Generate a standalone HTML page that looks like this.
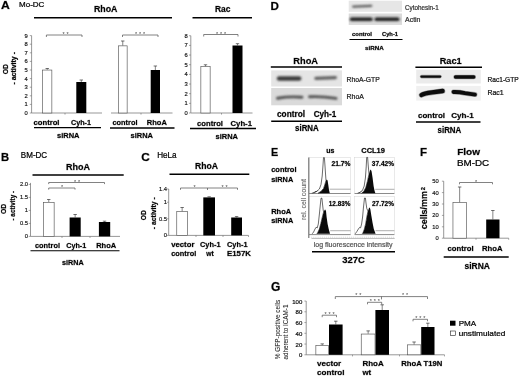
<!DOCTYPE html>
<html><head><meta charset="utf-8"><title>Figure</title>
<style>
html,body{margin:0;padding:0;background:#fff;}
svg{display:block;font-family:"Liberation Sans",sans-serif;}
</style></head>
<body>
<svg width="520" height="376" viewBox="0 0 520 376">
<defs>
<filter id="b2" x="-10%" y="-50%" width="120%" height="200%"><feGaussianBlur stdDeviation="0.8"/></filter>
</defs>
<rect width="520" height="376" fill="#fff"/>
<text x="0.9" y="8.9" font-size="11.6" font-weight="bold" textLength="8.8" lengthAdjust="spacingAndGlyphs" stroke="#000" stroke-width="0.5" stroke-opacity="0.45">A</text>
<text x="19" y="7.2" font-size="7.7" textLength="25.4" lengthAdjust="spacingAndGlyphs" stroke="#000" stroke-width="0.22">Mo-DC</text>
<text x="105.7" y="11.6" font-size="9.2" font-weight="bold" text-anchor="middle" textLength="23.5" lengthAdjust="spacingAndGlyphs" stroke="#000" stroke-width="0.5" stroke-opacity="0.45">RhoA</text>
<line x1="34" y1="17.8" x2="172" y2="17.8" stroke="#000" stroke-width="1.5"/>
<text x="222.7" y="11.5" font-size="9.2" font-weight="bold" text-anchor="middle" textLength="15.5" lengthAdjust="spacingAndGlyphs" stroke="#000" stroke-width="0.5" stroke-opacity="0.45">Rac</text>
<line x1="192.5" y1="17.8" x2="252" y2="17.8" stroke="#000" stroke-width="1.5"/>
<line x1="31.6" y1="35.60000000000001" x2="31.6" y2="113" stroke="#6a6a6a" stroke-width="0.7"/>
<line x1="29.8" y1="113.0" x2="31.6" y2="113.0" stroke="#6a6a6a" stroke-width="0.6"/>
<text x="27.7" y="115.088" font-size="5.8" text-anchor="end" fill="#111" stroke="#111" stroke-width="0.15">0</text>
<line x1="29.8" y1="104.4" x2="31.6" y2="104.4" stroke="#6a6a6a" stroke-width="0.6"/>
<text x="27.7" y="106.488" font-size="5.8" text-anchor="end" fill="#111" stroke="#111" stroke-width="0.15">1</text>
<line x1="29.8" y1="95.8" x2="31.6" y2="95.8" stroke="#6a6a6a" stroke-width="0.6"/>
<text x="27.7" y="97.88799999999999" font-size="5.8" text-anchor="end" fill="#111" stroke="#111" stroke-width="0.15">2</text>
<line x1="29.8" y1="87.2" x2="31.6" y2="87.2" stroke="#6a6a6a" stroke-width="0.6"/>
<text x="27.7" y="89.288" font-size="5.8" text-anchor="end" fill="#111" stroke="#111" stroke-width="0.15">3</text>
<line x1="29.8" y1="78.6" x2="31.6" y2="78.6" stroke="#6a6a6a" stroke-width="0.6"/>
<text x="27.7" y="80.68799999999999" font-size="5.8" text-anchor="end" fill="#111" stroke="#111" stroke-width="0.15">4</text>
<line x1="29.8" y1="70.0" x2="31.6" y2="70.0" stroke="#6a6a6a" stroke-width="0.6"/>
<text x="27.7" y="72.088" font-size="5.8" text-anchor="end" fill="#111" stroke="#111" stroke-width="0.15">5</text>
<line x1="29.8" y1="61.400000000000006" x2="31.6" y2="61.400000000000006" stroke="#6a6a6a" stroke-width="0.6"/>
<text x="27.7" y="63.48800000000001" font-size="5.8" text-anchor="end" fill="#111" stroke="#111" stroke-width="0.15">6</text>
<line x1="29.8" y1="52.800000000000004" x2="31.6" y2="52.800000000000004" stroke="#6a6a6a" stroke-width="0.6"/>
<text x="27.7" y="54.888000000000005" font-size="5.8" text-anchor="end" fill="#111" stroke="#111" stroke-width="0.15">7</text>
<line x1="29.8" y1="44.2" x2="31.6" y2="44.2" stroke="#6a6a6a" stroke-width="0.6"/>
<text x="27.7" y="46.288000000000004" font-size="5.8" text-anchor="end" fill="#111" stroke="#111" stroke-width="0.15">8</text>
<line x1="29.8" y1="35.60000000000001" x2="31.6" y2="35.60000000000001" stroke="#6a6a6a" stroke-width="0.6"/>
<text x="27.7" y="37.68800000000001" font-size="5.8" text-anchor="end" fill="#111" stroke="#111" stroke-width="0.15">9</text>
<line x1="31.6" y1="113" x2="102" y2="113" stroke="#6a6a6a" stroke-width="0.7"/>
<line x1="65" y1="113" x2="65" y2="114.6" stroke="#6a6a6a" stroke-width="0.6"/>
<rect x="42.65" y="70.05" width="9.200000000000006" height="42.949999999999996" fill="#fff" stroke="#555" stroke-width="0.65"/>
<line x1="47.25" y1="68.5" x2="47.25" y2="69.7" stroke="#333" stroke-width="0.6"/>
<line x1="45.55" y1="68.5" x2="48.95" y2="68.5" stroke="#333" stroke-width="0.7"/>
<rect x="76.3" y="82" width="10.0" height="31" fill="#000"/>
<line x1="81.3" y1="80" x2="81.3" y2="82" stroke="#333" stroke-width="0.6"/>
<line x1="79.6" y1="80" x2="83.0" y2="80" stroke="#333" stroke-width="0.7"/>
<path d="M46.4 37V35H82V37" fill="none" stroke="#585858" stroke-width="0.75"/>
<text x="66.45" y="36.0" font-size="5.5" text-anchor="middle" fill="#444" letter-spacing="1.9">**</text>
<text font-size="6.5" text-anchor="middle" font-weight="bold" stroke="#000" stroke-width="0.45" stroke-opacity="0.45" textLength="10.2" lengthAdjust="spacingAndGlyphs" transform="translate(7.8 69.2) rotate(-90)">OD</text>
<text font-size="6.5" text-anchor="middle" font-weight="bold" stroke="#000" stroke-width="0.45" stroke-opacity="0.45" textLength="32.5" lengthAdjust="spacingAndGlyphs" transform="translate(16.2 68.3) rotate(-90)">- activity -</text>
<text x="33.5" y="125" font-size="7.6" font-weight="bold" textLength="26" lengthAdjust="spacingAndGlyphs" stroke="#000" stroke-width="0.5" stroke-opacity="0.45">control</text>
<text x="71" y="125" font-size="7.5" font-weight="bold" textLength="20" lengthAdjust="spacingAndGlyphs" stroke="#000" stroke-width="0.5" stroke-opacity="0.45">Cyh-1</text>
<line x1="34" y1="127.6" x2="101" y2="127.6" stroke="#000" stroke-width="1.3"/>
<text x="68.3" y="138.3" font-size="7.5" font-weight="bold" text-anchor="middle" textLength="22.5" lengthAdjust="spacingAndGlyphs" stroke="#000" stroke-width="0.5" stroke-opacity="0.45">siRNA</text>
<line x1="111" y1="113" x2="172.5" y2="113" stroke="#6a6a6a" stroke-width="0.7"/>
<line x1="141" y1="113" x2="141" y2="114.6" stroke="#6a6a6a" stroke-width="0.6"/>
<rect x="118.35" y="45.85" width="8.8" height="67.15" fill="#fff" stroke="#555" stroke-width="0.65"/>
<line x1="122.75" y1="41" x2="122.75" y2="45.5" stroke="#333" stroke-width="0.6"/>
<line x1="121.05" y1="41" x2="124.45" y2="41" stroke="#333" stroke-width="0.7"/>
<rect x="150.7" y="70" width="9.300000000000011" height="43" fill="#000"/>
<line x1="155.35" y1="66" x2="155.35" y2="70" stroke="#333" stroke-width="0.6"/>
<line x1="153.65" y1="66" x2="157.04999999999998" y2="66" stroke="#333" stroke-width="0.7"/>
<path d="M122.5 37V35H158V37" fill="none" stroke="#585858" stroke-width="0.75"/>
<text x="140.95" y="36.0" font-size="5.5" text-anchor="middle" fill="#444" letter-spacing="1.9">***</text>
<text x="112.5" y="125" font-size="7.5" font-weight="bold" textLength="25" lengthAdjust="spacingAndGlyphs" stroke="#000" stroke-width="0.5" stroke-opacity="0.45">control</text>
<text x="146.8" y="125" font-size="7.7" font-weight="bold" textLength="20" lengthAdjust="spacingAndGlyphs" stroke="#000" stroke-width="0.5" stroke-opacity="0.45">RhoA</text>
<line x1="110" y1="128" x2="174.5" y2="128" stroke="#000" stroke-width="1.3"/>
<text x="141.8" y="138.2" font-size="7.7" font-weight="bold" text-anchor="middle" textLength="22.5" lengthAdjust="spacingAndGlyphs" stroke="#000" stroke-width="0.5" stroke-opacity="0.45">siRNA</text>
<line x1="190.8" y1="35.72" x2="190.8" y2="113" stroke="#6a6a6a" stroke-width="0.7"/>
<line x1="189.0" y1="113.0" x2="190.8" y2="113.0" stroke="#6a6a6a" stroke-width="0.6"/>
<text x="187.8" y="115.088" font-size="5.8" text-anchor="end" fill="#111" stroke="#111" stroke-width="0.15">0</text>
<line x1="189.0" y1="103.34" x2="190.8" y2="103.34" stroke="#6a6a6a" stroke-width="0.6"/>
<text x="187.8" y="105.428" font-size="5.8" text-anchor="end" fill="#111" stroke="#111" stroke-width="0.15">1</text>
<line x1="189.0" y1="93.68" x2="190.8" y2="93.68" stroke="#6a6a6a" stroke-width="0.6"/>
<text x="187.8" y="95.768" font-size="5.8" text-anchor="end" fill="#111" stroke="#111" stroke-width="0.15">2</text>
<line x1="189.0" y1="84.02" x2="190.8" y2="84.02" stroke="#6a6a6a" stroke-width="0.6"/>
<text x="187.8" y="86.10799999999999" font-size="5.8" text-anchor="end" fill="#111" stroke="#111" stroke-width="0.15">3</text>
<line x1="189.0" y1="74.36" x2="190.8" y2="74.36" stroke="#6a6a6a" stroke-width="0.6"/>
<text x="187.8" y="76.448" font-size="5.8" text-anchor="end" fill="#111" stroke="#111" stroke-width="0.15">4</text>
<line x1="189.0" y1="64.7" x2="190.8" y2="64.7" stroke="#6a6a6a" stroke-width="0.6"/>
<text x="187.8" y="66.788" font-size="5.8" text-anchor="end" fill="#111" stroke="#111" stroke-width="0.15">5</text>
<line x1="189.0" y1="55.04" x2="190.8" y2="55.04" stroke="#6a6a6a" stroke-width="0.6"/>
<text x="187.8" y="57.128" font-size="5.8" text-anchor="end" fill="#111" stroke="#111" stroke-width="0.15">6</text>
<line x1="189.0" y1="45.379999999999995" x2="190.8" y2="45.379999999999995" stroke="#6a6a6a" stroke-width="0.6"/>
<text x="187.8" y="47.467999999999996" font-size="5.8" text-anchor="end" fill="#111" stroke="#111" stroke-width="0.15">7</text>
<line x1="189.0" y1="35.72" x2="190.8" y2="35.72" stroke="#6a6a6a" stroke-width="0.6"/>
<text x="187.8" y="37.808" font-size="5.8" text-anchor="end" fill="#111" stroke="#111" stroke-width="0.15">8</text>
<line x1="191" y1="113" x2="252.5" y2="113" stroke="#6a6a6a" stroke-width="0.7"/>
<line x1="221.5" y1="113" x2="221.5" y2="114.6" stroke="#6a6a6a" stroke-width="0.6"/>
<rect x="200.85" y="66.55" width="9.3" height="46.449999999999996" fill="#fff" stroke="#555" stroke-width="0.65"/>
<line x1="205.5" y1="64.8" x2="205.5" y2="66.2" stroke="#333" stroke-width="0.6"/>
<line x1="203.8" y1="64.8" x2="207.2" y2="64.8" stroke="#333" stroke-width="0.7"/>
<rect x="232.5" y="45.5" width="10.0" height="67.5" fill="#000"/>
<line x1="237.5" y1="43.7" x2="237.5" y2="45.5" stroke="#333" stroke-width="0.6"/>
<line x1="235.8" y1="43.7" x2="239.2" y2="43.7" stroke="#333" stroke-width="0.7"/>
<path d="M203.7 36.5V34.5H238V36.5" fill="none" stroke="#585858" stroke-width="0.75"/>
<text x="221.95" y="35.5" font-size="5.5" text-anchor="middle" fill="#444" letter-spacing="1.9">***</text>
<text x="197" y="126" font-size="7.7" font-weight="bold" textLength="26" lengthAdjust="spacingAndGlyphs" stroke="#000" stroke-width="0.5" stroke-opacity="0.45">control</text>
<text x="230.5" y="126" font-size="7.7" font-weight="bold" textLength="21.5" lengthAdjust="spacingAndGlyphs" stroke="#000" stroke-width="0.5" stroke-opacity="0.45">Cyh-1</text>
<line x1="190" y1="128.5" x2="256" y2="128.5" stroke="#000" stroke-width="1.3"/>
<text x="226.8" y="139.2" font-size="7.7" font-weight="bold" text-anchor="middle" textLength="22.5" lengthAdjust="spacingAndGlyphs" stroke="#000" stroke-width="0.5" stroke-opacity="0.45">siRNA</text>
<text x="270.4" y="10" font-size="11.6" font-weight="bold" stroke="#000" stroke-width="0.5" stroke-opacity="0.45">D</text>
<rect x="348.7" y="0.7" width="53.3" height="11.1" fill="#e6e6e6"/>
<rect x="348.7" y="13.5" width="53.3" height="11.4" fill="#dadada"/>
<g filter="url(#b2)" fill="none" stroke-linecap="round">
<path d="M353.2 6.7 L371.2 5.9" fill="none" stroke="#5a5a5a" stroke-width="2.3"/>
<path d="M351.5 19.3 H371" fill="none" stroke="#1c1c1c" stroke-width="3.4"/>
<path d="M376.2 19.3 H397.8" fill="none" stroke="#1c1c1c" stroke-width="3.4"/>
</g>
<text x="405" y="9.6" font-size="6.3" fill="#333" textLength="33.7" lengthAdjust="spacingAndGlyphs" stroke="#333" stroke-width="0.22">Cytohesin-1</text>
<text x="405" y="21.6" font-size="6.3" fill="#333" textLength="15.5" lengthAdjust="spacingAndGlyphs" stroke="#333" stroke-width="0.22">Actin</text>
<text x="352" y="36.3" font-size="6" font-weight="bold" textLength="20" lengthAdjust="spacingAndGlyphs" stroke="#000" stroke-width="0.5" stroke-opacity="0.45">control</text>
<text x="382" y="36.3" font-size="6" font-weight="bold" textLength="16" lengthAdjust="spacingAndGlyphs" stroke="#000" stroke-width="0.5" stroke-opacity="0.45">Cyh-1</text>
<line x1="349.5" y1="39.5" x2="402.5" y2="39.5" stroke="#000" stroke-width="1.1"/>
<text x="374.4" y="50" font-size="6.2" font-weight="bold" text-anchor="middle" textLength="18.7" lengthAdjust="spacingAndGlyphs" stroke="#000" stroke-width="0.5" stroke-opacity="0.45">siRNA</text>
<text x="305.7" y="64.1" font-size="9.6" font-weight="bold" text-anchor="middle" textLength="24.7" lengthAdjust="spacingAndGlyphs" stroke="#000" stroke-width="0.5" stroke-opacity="0.45">RhoA</text>
<line x1="270.8" y1="66.9" x2="342" y2="66.9" stroke="#000" stroke-width="1.5"/>
<rect x="271.2" y="70.4" width="70.8" height="16.1" fill="#e5e5e5"/>
<rect x="271.2" y="88" width="70.8" height="17.3" fill="#dadada"/>
<g filter="url(#b2)" fill="none" stroke-linecap="round">
<path d="M279 78.5 H299.2" fill="none" stroke="#3e3e3e" stroke-width="4.4"/>
<path d="M315.8 78.4 L335.4 77.6" fill="none" stroke="#606060" stroke-width="3.1"/>
<path d="M277.5 98.2 Q289 96.2 302 97.2" fill="none" stroke="#505050" stroke-width="2.9"/>
<path d="M309.5 96.8 Q322 96.2 336 98.4" fill="none" stroke="#505050" stroke-width="2.9"/>
</g>
<text x="346.5" y="82" font-size="7" fill="#1a1a1a" textLength="33.2" lengthAdjust="spacingAndGlyphs" stroke="#1a1a1a" stroke-width="0.22">RhoA-GTP</text>
<text x="346.5" y="98.8" font-size="7" fill="#1a1a1a" textLength="17.4" lengthAdjust="spacingAndGlyphs" stroke="#1a1a1a" stroke-width="0.22">RhoA</text>
<text x="277" y="116.6" font-size="8.2" font-weight="bold" textLength="28" lengthAdjust="spacingAndGlyphs" stroke="#000" stroke-width="0.5" stroke-opacity="0.45">control</text>
<text x="313.7" y="116.6" font-size="8.2" font-weight="bold" textLength="22.5" lengthAdjust="spacingAndGlyphs" stroke="#000" stroke-width="0.5" stroke-opacity="0.45">Cyh-1</text>
<line x1="271.2" y1="121.3" x2="342" y2="121.3" stroke="#000" stroke-width="1.4"/>
<text x="306.9" y="131.3" font-size="8.2" font-weight="bold" text-anchor="middle" textLength="23.7" lengthAdjust="spacingAndGlyphs" stroke="#000" stroke-width="0.5" stroke-opacity="0.45">siRNA</text>
<text x="450.7" y="63.6" font-size="9.7" font-weight="bold" text-anchor="middle" textLength="22" lengthAdjust="spacingAndGlyphs" stroke="#000" stroke-width="0.5" stroke-opacity="0.45">Rac1</text>
<line x1="415.4" y1="67.3" x2="482" y2="67.3" stroke="#000" stroke-width="1.5"/>
<rect x="416.2" y="69.7" width="64.6" height="13.8" fill="#ebebeb"/>
<rect x="416.2" y="85.9" width="64.6" height="14.7" fill="#f0f0f0"/>
<g fill="none" stroke-linecap="round">
<path d="M421.6 76.6 H440" fill="none" stroke="#000" stroke-width="3.5999999999999996" stroke-opacity="0.3"/>
<path d="M421.6 76.6 H440" fill="none" stroke="#0c0c0c" stroke-width="2.4"/>
<path d="M455.5 77 H473.8" fill="none" stroke="#000" stroke-width="4.5" stroke-opacity="0.3"/>
<path d="M455.5 77 H473.8" fill="none" stroke="#0c0c0c" stroke-width="3.3"/>
<path d="M421.5 95 Q424 93.4 432 92.4 L442.6 91" fill="none" stroke="#000" stroke-width="5.5" stroke-opacity="0.3"/>
<path d="M421.5 95 Q424 93.4 432 92.4 L442.6 91" fill="none" stroke="#0c0c0c" stroke-width="4.3"/>
<path d="M453.5 92 Q459 91.8 465 93.2 L475 94.6" fill="none" stroke="#000" stroke-width="5.0" stroke-opacity="0.3"/>
<path d="M453.5 92 Q459 91.8 465 93.2 L475 94.6" fill="none" stroke="#0c0c0c" stroke-width="3.8"/>
</g>
<text x="487.5" y="81.7" font-size="6.8" fill="#111" textLength="31.2" lengthAdjust="spacingAndGlyphs" stroke="#111" stroke-width="0.22">Rac1-GTP</text>
<text x="487.5" y="95.1" font-size="6.8" fill="#111" textLength="16.2" lengthAdjust="spacingAndGlyphs" stroke="#111" stroke-width="0.22">Rac1</text>
<text x="418" y="118.4" font-size="8" font-weight="bold" textLength="27" lengthAdjust="spacingAndGlyphs" stroke="#000" stroke-width="0.5" stroke-opacity="0.45">control</text>
<text x="451.2" y="118.4" font-size="8" font-weight="bold" textLength="22.5" lengthAdjust="spacingAndGlyphs" stroke="#000" stroke-width="0.5" stroke-opacity="0.45">Cyh-1</text>
<line x1="416" y1="122" x2="480.5" y2="122" stroke="#000" stroke-width="1.4"/>
<text x="449.4" y="132.7" font-size="8.2" font-weight="bold" text-anchor="middle" textLength="23.7" lengthAdjust="spacingAndGlyphs" stroke="#000" stroke-width="0.5" stroke-opacity="0.45">siRNA</text>
<text x="1" y="160.6" font-size="11.2" font-weight="bold" stroke="#000" stroke-width="0.5" stroke-opacity="0.45">B</text>
<text x="20.8" y="158.3" font-size="8.6" textLength="26.4" lengthAdjust="spacingAndGlyphs" stroke="#000" stroke-width="0.22">BM-DC</text>
<text x="78" y="169.5" font-size="9" font-weight="bold" text-anchor="middle" textLength="24" lengthAdjust="spacingAndGlyphs" stroke="#000" stroke-width="0.5" stroke-opacity="0.45">RhoA</text>
<line x1="32.5" y1="174.9" x2="123.7" y2="174.9" stroke="#000" stroke-width="1.5"/>
<line x1="30.5" y1="182.9" x2="30.5" y2="236.4" stroke="#6a6a6a" stroke-width="0.7"/>
<line x1="28.7" y1="236.4" x2="30.5" y2="236.4" stroke="#6a6a6a" stroke-width="0.6"/>
<text x="28" y="238.488" font-size="5.8" text-anchor="end" fill="#111" stroke="#111" stroke-width="0.15">0</text>
<line x1="28.7" y1="223.4" x2="30.5" y2="223.4" stroke="#6a6a6a" stroke-width="0.6"/>
<text x="28" y="225.488" font-size="5.8" text-anchor="end" fill="#111" stroke="#111" stroke-width="0.15">0.5</text>
<line x1="28.7" y1="210.4" x2="30.5" y2="210.4" stroke="#6a6a6a" stroke-width="0.6"/>
<text x="28" y="212.488" font-size="5.8" text-anchor="end" fill="#111" stroke="#111" stroke-width="0.15">1</text>
<line x1="28.7" y1="197.4" x2="30.5" y2="197.4" stroke="#6a6a6a" stroke-width="0.6"/>
<text x="28" y="199.488" font-size="5.8" text-anchor="end" fill="#111" stroke="#111" stroke-width="0.15">1.5</text>
<line x1="28.7" y1="184.4" x2="30.5" y2="184.4" stroke="#6a6a6a" stroke-width="0.6"/>
<text x="28" y="186.488" font-size="5.8" text-anchor="end" fill="#111" stroke="#111" stroke-width="0.15">2.0</text>
<line x1="30.5" y1="236.4" x2="120" y2="236.4" stroke="#6a6a6a" stroke-width="0.7"/>
<line x1="62" y1="236.4" x2="62" y2="238.0" stroke="#6a6a6a" stroke-width="0.6"/>
<line x1="90" y1="236.4" x2="90" y2="238.0" stroke="#6a6a6a" stroke-width="0.6"/>
<rect x="43.35" y="202.35" width="10.8" height="34.050000000000004" fill="#fff" stroke="#555" stroke-width="0.65"/>
<line x1="48.75" y1="199.5" x2="48.75" y2="202" stroke="#333" stroke-width="0.6"/>
<line x1="47.05" y1="199.5" x2="50.45" y2="199.5" stroke="#333" stroke-width="0.7"/>
<rect x="69.6" y="217.5" width="11.100000000000009" height="18.900000000000006" fill="#000"/>
<line x1="75.15" y1="214.5" x2="75.15" y2="217.5" stroke="#333" stroke-width="0.6"/>
<line x1="73.45" y1="214.5" x2="76.85000000000001" y2="214.5" stroke="#333" stroke-width="0.7"/>
<rect x="98.9" y="222" width="11.299999999999997" height="14.400000000000006" fill="#000"/>
<line x1="104.55000000000001" y1="221.2" x2="104.55000000000001" y2="222" stroke="#333" stroke-width="0.6"/>
<line x1="102.85000000000001" y1="221.2" x2="106.25000000000001" y2="221.2" stroke="#333" stroke-width="0.7"/>
<path d="M48.7 184.1V182.5H104.5V184.1" fill="none" stroke="#585858" stroke-width="0.75"/>
<text x="77.95" y="183.5" font-size="5.5" text-anchor="middle" fill="#444" letter-spacing="1.9">**</text>
<path d="M48.7 189.6V188H75V189.6" fill="none" stroke="#585858" stroke-width="0.75"/>
<text x="62.95" y="189.0" font-size="5.5" text-anchor="middle" fill="#444" letter-spacing="1.9">*</text>
<text font-size="6.5" text-anchor="middle" font-weight="bold" stroke="#000" stroke-width="0.45" stroke-opacity="0.45" textLength="10.2" lengthAdjust="spacingAndGlyphs" transform="translate(6.1 209) rotate(-90)">OD</text>
<text font-size="6.3" text-anchor="middle" font-weight="bold" stroke="#000" stroke-width="0.45" stroke-opacity="0.45" textLength="29.6" lengthAdjust="spacingAndGlyphs" transform="translate(15.2 205.7) rotate(-90)">- activity -</text>
<text x="35" y="248" font-size="7.5" font-weight="bold" textLength="25" lengthAdjust="spacingAndGlyphs" stroke="#000" stroke-width="0.5" stroke-opacity="0.45">control</text>
<text x="66.2" y="248" font-size="7.5" font-weight="bold" textLength="20" lengthAdjust="spacingAndGlyphs" stroke="#000" stroke-width="0.5" stroke-opacity="0.45">Cyh-1</text>
<text x="96.2" y="248" font-size="7.5" font-weight="bold" textLength="20" lengthAdjust="spacingAndGlyphs" stroke="#000" stroke-width="0.5" stroke-opacity="0.45">RhoA</text>
<line x1="30.5" y1="250.8" x2="119.5" y2="250.8" stroke="#000" stroke-width="1.1"/>
<text x="72.9" y="264.5" font-size="7.5" font-weight="bold" text-anchor="middle" textLength="21.7" lengthAdjust="spacingAndGlyphs" stroke="#000" stroke-width="0.5" stroke-opacity="0.45">siRNA</text>
<text x="141.3" y="160.6" font-size="11.8" font-weight="bold" stroke="#000" stroke-width="0.5" stroke-opacity="0.45">C</text>
<text x="157.2" y="157.8" font-size="8.2" textLength="19.4" lengthAdjust="spacingAndGlyphs" stroke="#000" stroke-width="0.22">HeLa</text>
<text x="206.5" y="168.8" font-size="9" font-weight="bold" text-anchor="middle" textLength="23" lengthAdjust="spacingAndGlyphs" stroke="#000" stroke-width="0.5" stroke-opacity="0.45">RhoA</text>
<line x1="169.5" y1="174.2" x2="249.3" y2="174.2" stroke="#000" stroke-width="1.5"/>
<line x1="168.7" y1="188.99" x2="168.7" y2="235.4" stroke="#6a6a6a" stroke-width="0.7"/>
<line x1="166.89999999999998" y1="235.4" x2="168.7" y2="235.4" stroke="#6a6a6a" stroke-width="0.6"/>
<text x="167" y="237.488" font-size="5.8" text-anchor="end" fill="#111" stroke="#111" stroke-width="0.15">0</text>
<line x1="166.89999999999998" y1="218.82500000000002" x2="168.7" y2="218.82500000000002" stroke="#6a6a6a" stroke-width="0.6"/>
<text x="167" y="220.913" font-size="5.8" text-anchor="end" fill="#111" stroke="#111" stroke-width="0.15">0.5</text>
<line x1="166.89999999999998" y1="202.25" x2="168.7" y2="202.25" stroke="#6a6a6a" stroke-width="0.6"/>
<text x="167" y="204.338" font-size="5.8" text-anchor="end" fill="#111" stroke="#111" stroke-width="0.15">1</text>
<line x1="166.89999999999998" y1="188.99" x2="168.7" y2="188.99" stroke="#6a6a6a" stroke-width="0.6"/>
<text x="167" y="191.078" font-size="5.8" text-anchor="end" fill="#111" stroke="#111" stroke-width="0.15">1.4</text>
<line x1="168.7" y1="235.4" x2="248.5" y2="235.4" stroke="#6a6a6a" stroke-width="0.7"/>
<line x1="196" y1="235.4" x2="196" y2="237.0" stroke="#6a6a6a" stroke-width="0.6"/>
<line x1="223" y1="235.4" x2="223" y2="237.0" stroke="#6a6a6a" stroke-width="0.6"/>
<line x1="248.5" y1="235.4" x2="248.5" y2="237.0" stroke="#6a6a6a" stroke-width="0.6"/>
<rect x="176.75" y="211.54999999999998" width="10.8" height="23.850000000000016" fill="#fff" stroke="#555" stroke-width="0.65"/>
<line x1="182.15" y1="207.5" x2="182.15" y2="211.2" stroke="#333" stroke-width="0.6"/>
<line x1="180.45000000000002" y1="207.5" x2="183.85" y2="207.5" stroke="#333" stroke-width="0.7"/>
<rect x="203.3" y="197.4" width="11.699999999999989" height="38.0" fill="#000"/>
<line x1="209.15" y1="196.8" x2="209.15" y2="197.4" stroke="#333" stroke-width="0.6"/>
<line x1="207.45000000000002" y1="196.8" x2="210.85" y2="196.8" stroke="#333" stroke-width="0.7"/>
<rect x="231.2" y="217.5" width="10.800000000000011" height="17.900000000000006" fill="#000"/>
<line x1="236.6" y1="216.6" x2="236.6" y2="217.5" stroke="#333" stroke-width="0.6"/>
<line x1="234.9" y1="216.6" x2="238.29999999999998" y2="216.6" stroke="#333" stroke-width="0.7"/>
<path d="M180.5 189.8V188H237.5V189.8M207.5 188V190" fill="none" stroke="#585858" stroke-width="0.75"/>
<text x="195.45" y="189.2" font-size="5.5" text-anchor="middle" fill="#444" letter-spacing="1.9">*</text>
<text x="225.45" y="189.2" font-size="5.5" text-anchor="middle" fill="#444" letter-spacing="1.9">**</text>
<text font-size="6.5" text-anchor="middle" font-weight="bold" stroke="#000" stroke-width="0.45" stroke-opacity="0.45" textLength="10" lengthAdjust="spacingAndGlyphs" transform="translate(146 215.3) rotate(-90)">OD</text>
<text font-size="6.3" text-anchor="middle" font-weight="bold" stroke="#000" stroke-width="0.45" stroke-opacity="0.45" textLength="32" lengthAdjust="spacingAndGlyphs" transform="translate(155.5 213.2) rotate(-90)">- activity -</text>
<text x="171.2" y="246.6" font-size="7.7" font-weight="bold" textLength="23.2" lengthAdjust="spacingAndGlyphs" stroke="#000" stroke-width="0.5" stroke-opacity="0.45">vector</text>
<text x="171.2" y="256.3" font-size="7.5" font-weight="bold" textLength="25" lengthAdjust="spacingAndGlyphs" stroke="#000" stroke-width="0.5" stroke-opacity="0.45">control</text>
<text x="200" y="246.6" font-size="7.5" font-weight="bold" textLength="20.5" lengthAdjust="spacingAndGlyphs" stroke="#000" stroke-width="0.5" stroke-opacity="0.45">Cyh-1</text>
<text x="206.2" y="256.3" font-size="7.5" font-weight="bold" textLength="7.5" lengthAdjust="spacingAndGlyphs" stroke="#000" stroke-width="0.5" stroke-opacity="0.45">wt</text>
<text x="227" y="246.6" font-size="7.5" font-weight="bold" textLength="20.5" lengthAdjust="spacingAndGlyphs" stroke="#000" stroke-width="0.5" stroke-opacity="0.45">Cyh-1</text>
<text x="227" y="256.3" font-size="7.5" font-weight="bold" textLength="24" lengthAdjust="spacingAndGlyphs" stroke="#000" stroke-width="0.5" stroke-opacity="0.45">E157K</text>
<text x="271" y="156.4" font-size="11.8" font-weight="bold" textLength="7.2" lengthAdjust="spacingAndGlyphs" stroke="#000" stroke-width="0.5" stroke-opacity="0.45">E</text>
<text x="330.4" y="153" font-size="7.5" font-weight="bold" text-anchor="middle" textLength="8.2" lengthAdjust="spacingAndGlyphs" stroke="#000" stroke-width="0.5" stroke-opacity="0.45">us</text>
<text x="373.1" y="153" font-size="7.5" font-weight="bold" text-anchor="middle" textLength="23.7" lengthAdjust="spacingAndGlyphs" stroke="#000" stroke-width="0.5" stroke-opacity="0.45">CCL19</text>
<text x="271.2" y="172.4" font-size="7.6" font-weight="bold" textLength="25.3" lengthAdjust="spacingAndGlyphs" stroke="#000" stroke-width="0.5" stroke-opacity="0.45">control</text>
<text x="271.2" y="181.7" font-size="7.4" font-weight="bold" textLength="22" lengthAdjust="spacingAndGlyphs" stroke="#000" stroke-width="0.5" stroke-opacity="0.45">siRNA</text>
<text x="271.2" y="213.8" font-size="7.6" font-weight="bold" textLength="20" lengthAdjust="spacingAndGlyphs" stroke="#000" stroke-width="0.5" stroke-opacity="0.45">RhoA</text>
<text x="271.2" y="222.8" font-size="7.6" font-weight="bold" textLength="22" lengthAdjust="spacingAndGlyphs" stroke="#000" stroke-width="0.5" stroke-opacity="0.45">siRNA</text>
<text font-size="6.3" text-anchor="middle" stroke="#6a6a6a" stroke-width="0.12" fill="#6a6a6a" textLength="41" lengthAdjust="spacingAndGlyphs" transform="translate(305.8 199.6) rotate(-90)">rel. cell count</text>
<rect x="309" y="157.4" width="41.6" height="36.1" fill="none" stroke="#d4d4d4" stroke-width="0.5"/>
<line x1="309" y1="193.5" x2="350.6" y2="193.5" stroke="#808080" stroke-width="0.9"/>
<rect x="309" y="196.6" width="41.6" height="38.0" fill="none" stroke="#d4d4d4" stroke-width="0.5"/>
<line x1="309" y1="234.6" x2="350.6" y2="234.6" stroke="#808080" stroke-width="0.9"/>
<rect x="354.6" y="157.4" width="39.8" height="36.1" fill="none" stroke="#d4d4d4" stroke-width="0.5"/>
<line x1="354.6" y1="193.5" x2="394.40000000000003" y2="193.5" stroke="#808080" stroke-width="0.9"/>
<rect x="354.6" y="196.6" width="39.8" height="38.0" fill="none" stroke="#d4d4d4" stroke-width="0.5"/>
<line x1="354.6" y1="234.6" x2="394.40000000000003" y2="234.6" stroke="#808080" stroke-width="0.9"/>
<line x1="308.8" y1="157.4" x2="308.8" y2="238" stroke="#6c6c6c" stroke-width="1.1"/>
<path d="M312.5 193.2 L315 191.6 L318 190.4 L321 189.8 L323.5 188.5 L325 184 L326 180.4 L326.8 179.4 L327.6 180.6 L328.3 185 L329 190 L329.8 193.2Z" fill="#0a0a0a"/>
<path d="M311.8 193.2 L314.5 192.6 L317 191.2 L319.4 189 L321 184.5 L322.2 176 L323 165 L323.5 157.6 L324.4 157.6 L325 166 L325.6 175 L326 180.4 L325 184 L323.5 188.5 L321 191.4 L318 193.2" fill="#fff" stroke="#1a1a1a" stroke-width="0.65"/>
<line x1="329.6" y1="189.2" x2="350.6" y2="189.2" stroke="#8c8c8c" stroke-width="0.7"/>
<text x="350.4" y="166" font-size="6.8" font-weight="bold" text-anchor="end" textLength="18.9" lengthAdjust="spacingAndGlyphs" stroke="#000" stroke-width="0.5" stroke-opacity="0.45">21.7%</text>
<path d="M358 193.2 L361 191.6 L363.5 189.6 L365.5 186.5 L367.5 181 L369 174 L370 170.4 L370.8 169.4 L371.6 171.4 L372.6 178 L373.6 186 L374.6 191 L375.4 193.2Z" fill="#0a0a0a"/>
<path d="M357.6 193.2 L360.5 192.2 L362.6 190 L364.2 186 L365.4 178 L366.2 167 L366.7 157.4 L367.6 157.4 L368.2 165 L368.8 172 L369 174 L367.5 181 L365.8 187.5 L363.8 191.4 L361.5 193.2" fill="#fff" stroke="#1a1a1a" stroke-width="0.65"/>
<line x1="375.2" y1="189.3" x2="394.4" y2="189.3" stroke="#8c8c8c" stroke-width="0.7"/>
<text x="394" y="166" font-size="6.8" font-weight="bold" text-anchor="end" textLength="22.2" lengthAdjust="spacingAndGlyphs" stroke="#000" stroke-width="0.5" stroke-opacity="0.45">37.42%</text>
<path d="M316.5 233.8 L318.5 230 L320.5 224 L322.3 217 L323.6 212 L324.6 210 L325.2 209.6 L326 211 L326.6 217 L327.6 224 L328.7 229 L330 233.8Z" fill="#0a0a0a"/>
<path d="M312.2 233.8 L313.6 232 L315 229 L316.2 227.2 L317.2 228 L318.3 224 L319.4 214 L320.4 204 L321 198.2 L321.9 198.2 L322.5 204 L323.2 210 L323.6 212 L322.3 217 L320.8 223.5 L319.4 229 L317.8 232.4 L317 233.8" fill="#fff" stroke="#1a1a1a" stroke-width="0.65"/>
<line x1="330.2" y1="230.7" x2="350.6" y2="230.7" stroke="#8c8c8c" stroke-width="0.7"/>
<text x="350.4" y="205.7" font-size="6.8" font-weight="bold" text-anchor="end" textLength="21.6" lengthAdjust="spacingAndGlyphs" stroke="#000" stroke-width="0.5" stroke-opacity="0.45">12.83%</text>
<path d="M362.4 233.8 L364 230 L365.6 224 L366.8 217 L368 211 L369 208 L369.6 207.4 L370.3 209 L371.4 216 L372.6 223 L373.8 229 L375.6 233.8Z" fill="#0a0a0a"/>
<path d="M355.2 233.8 L356.8 231.6 L358.4 229 L359.6 227.4 L360.6 227.8 L361.6 224 L362.6 217 L363.4 208 L364.5 198 L365.4 198 L366 203 L366.8 208.6 L368 211 L366.8 217 L365.6 224 L364.2 229.5 L363 232.6 L362.2 233.8" fill="#fff" stroke="#1a1a1a" stroke-width="0.65"/>
<line x1="375.6" y1="230.7" x2="394.4" y2="230.7" stroke="#8c8c8c" stroke-width="0.7"/>
<text x="394" y="205.7" font-size="6.8" font-weight="bold" text-anchor="end" textLength="22" lengthAdjust="spacingAndGlyphs" stroke="#000" stroke-width="0.5" stroke-opacity="0.45">27.72%</text>
<line x1="311.5" y1="238.4" x2="394.7" y2="238.4" stroke="#9a9a9a" stroke-width="0.7"/>
<path d="M311.5 237.2H394.7" stroke="#bbb" stroke-width="1" stroke-dasharray="0.5 1.6" fill="none"/>
<text x="313.8" y="246.6" font-size="7" fill="#555" textLength="78.7" lengthAdjust="spacingAndGlyphs" stroke="#555" stroke-width="0.22">log fluorescence intensity</text>
<line x1="312" y1="251.8" x2="395" y2="251.8" stroke="#000" stroke-width="1.5"/>
<text x="353.5" y="262.6" font-size="9.6" font-weight="bold" text-anchor="middle" textLength="22.6" lengthAdjust="spacingAndGlyphs" stroke="#000" stroke-width="0.5" stroke-opacity="0.45">327C</text>
<text x="420" y="156.3" font-size="11.5" font-weight="bold" stroke="#000" stroke-width="0.5" stroke-opacity="0.45">F</text>
<text x="457.2" y="154.8" font-size="9" font-weight="bold" textLength="22.8" lengthAdjust="spacingAndGlyphs" stroke="#000" stroke-width="0.5" stroke-opacity="0.45">Flow</text>
<text x="457" y="165.8" font-size="9" textLength="32.2" lengthAdjust="spacingAndGlyphs" stroke="#000" stroke-width="0.22">BM-DC</text>
<line x1="443.7" y1="181.2" x2="443.7" y2="238.2" stroke="#6a6a6a" stroke-width="0.7"/>
<line x1="441.9" y1="238.2" x2="443.7" y2="238.2" stroke="#6a6a6a" stroke-width="0.6"/>
<text x="438.8" y="240.28799999999998" font-size="5.8" text-anchor="end" fill="#111" stroke="#111" stroke-width="0.15">0</text>
<line x1="441.9" y1="226.79999999999998" x2="443.7" y2="226.79999999999998" stroke="#6a6a6a" stroke-width="0.6"/>
<text x="438.8" y="228.88799999999998" font-size="5.8" text-anchor="end" fill="#111" stroke="#111" stroke-width="0.15">10</text>
<line x1="441.9" y1="215.39999999999998" x2="443.7" y2="215.39999999999998" stroke="#6a6a6a" stroke-width="0.6"/>
<text x="438.8" y="217.48799999999997" font-size="5.8" text-anchor="end" fill="#111" stroke="#111" stroke-width="0.15">20</text>
<line x1="441.9" y1="204.0" x2="443.7" y2="204.0" stroke="#6a6a6a" stroke-width="0.6"/>
<text x="438.8" y="206.088" font-size="5.8" text-anchor="end" fill="#111" stroke="#111" stroke-width="0.15">30</text>
<line x1="441.9" y1="192.6" x2="443.7" y2="192.6" stroke="#6a6a6a" stroke-width="0.6"/>
<text x="438.8" y="194.688" font-size="5.8" text-anchor="end" fill="#111" stroke="#111" stroke-width="0.15">40</text>
<line x1="441.9" y1="181.2" x2="443.7" y2="181.2" stroke="#6a6a6a" stroke-width="0.6"/>
<text x="438.8" y="183.28799999999998" font-size="5.8" text-anchor="end" fill="#111" stroke="#111" stroke-width="0.15">50</text>
<line x1="443.7" y1="238.2" x2="508.7" y2="238.2" stroke="#6a6a6a" stroke-width="0.7"/>
<line x1="476" y1="238.2" x2="476" y2="239.79999999999998" stroke="#6a6a6a" stroke-width="0.6"/>
<line x1="508.7" y1="238.2" x2="508.7" y2="239.79999999999998" stroke="#6a6a6a" stroke-width="0.6"/>
<rect x="452.95000000000005" y="202.54999999999998" width="13.399999999999967" height="35.65" fill="#fff" stroke="#555" stroke-width="0.65"/>
<line x1="459.65" y1="187" x2="459.65" y2="202.2" stroke="#333" stroke-width="0.6"/>
<line x1="457.95" y1="187" x2="461.34999999999997" y2="187" stroke="#333" stroke-width="0.7"/>
<rect x="486.2" y="219.5" width="13.300000000000011" height="18.69999999999999" fill="#000"/>
<line x1="492.85" y1="210.5" x2="492.85" y2="219.5" stroke="#333" stroke-width="0.6"/>
<line x1="491.15000000000003" y1="210.5" x2="494.55" y2="210.5" stroke="#333" stroke-width="0.7"/>
<path d="M459.5 184.3V182.5H492.5V184.3" fill="none" stroke="#585858" stroke-width="0.75"/>
<text x="476.95" y="183.5" font-size="5.5" text-anchor="middle" fill="#444" letter-spacing="1.9">*</text>
<text font-size="8.2" text-anchor="middle" font-weight="bold" stroke="#000" stroke-width="0.45" stroke-opacity="0.45" textLength="42" lengthAdjust="spacingAndGlyphs" transform="translate(427.2 208.2) rotate(-90)">cells/mm<tspan font-size="5.2" dy="-2.6" dx="0.8">2</tspan></text>
<text x="447.5" y="250.8" font-size="7.8" font-weight="bold" textLength="26.2" lengthAdjust="spacingAndGlyphs" stroke="#000" stroke-width="0.5" stroke-opacity="0.45">control</text>
<text x="482" y="250.8" font-size="7.8" font-weight="bold" textLength="20.5" lengthAdjust="spacingAndGlyphs" stroke="#000" stroke-width="0.5" stroke-opacity="0.45">RhoA</text>
<line x1="443.7" y1="257" x2="508.7" y2="257" stroke="#000" stroke-width="1.4"/>
<text x="477.2" y="268.8" font-size="8.5" font-weight="bold" text-anchor="middle" textLength="25.5" lengthAdjust="spacingAndGlyphs" stroke="#000" stroke-width="0.5" stroke-opacity="0.45">siRNA</text>
<text x="271" y="291.2" font-size="12" font-weight="bold" stroke="#000" stroke-width="0.5" stroke-opacity="0.45">G</text>
<line x1="306.2" y1="301.05" x2="306.2" y2="354.8" stroke="#6a6a6a" stroke-width="0.7"/>
<line x1="304.4" y1="354.8" x2="306.2" y2="354.8" stroke="#6a6a6a" stroke-width="0.6"/>
<text x="302.3" y="357.36" font-size="6" text-anchor="end" fill="#111" stroke="#111" stroke-width="0.22" stroke="#111" stroke-width="0.15">0</text>
<line x1="304.4" y1="344.05" x2="306.2" y2="344.05" stroke="#6a6a6a" stroke-width="0.6"/>
<text x="302.3" y="346.61" font-size="6" text-anchor="end" fill="#111" stroke="#111" stroke-width="0.22" stroke="#111" stroke-width="0.15">20</text>
<line x1="304.4" y1="333.3" x2="306.2" y2="333.3" stroke="#6a6a6a" stroke-width="0.6"/>
<text x="302.3" y="335.86" font-size="6" text-anchor="end" fill="#111" stroke="#111" stroke-width="0.22" stroke="#111" stroke-width="0.15">40</text>
<line x1="304.4" y1="322.55" x2="306.2" y2="322.55" stroke="#6a6a6a" stroke-width="0.6"/>
<text x="302.3" y="325.11" font-size="6" text-anchor="end" fill="#111" stroke="#111" stroke-width="0.22" stroke="#111" stroke-width="0.15">60</text>
<line x1="304.4" y1="311.8" x2="306.2" y2="311.8" stroke="#6a6a6a" stroke-width="0.6"/>
<text x="302.3" y="314.36" font-size="6" text-anchor="end" fill="#111" stroke="#111" stroke-width="0.22" stroke="#111" stroke-width="0.15">80</text>
<line x1="304.4" y1="301.05" x2="306.2" y2="301.05" stroke="#6a6a6a" stroke-width="0.6"/>
<text x="302.3" y="303.61" font-size="6" text-anchor="end" fill="#111" stroke="#111" stroke-width="0.22" stroke="#111" stroke-width="0.15">100</text>
<line x1="306.2" y1="354.8" x2="444.5" y2="354.8" stroke="#6a6a6a" stroke-width="0.7"/>
<line x1="352.5" y1="354.8" x2="352.5" y2="356.40000000000003" stroke="#6a6a6a" stroke-width="0.6"/>
<line x1="399.5" y1="354.8" x2="399.5" y2="356.40000000000003" stroke="#6a6a6a" stroke-width="0.6"/>
<line x1="444.5" y1="354.8" x2="444.5" y2="356.40000000000003" stroke="#6a6a6a" stroke-width="0.6"/>
<rect x="329" y="324.5" width="13.600000000000023" height="30.30000000000001" fill="#000"/>
<line x1="335.8" y1="321.2" x2="335.8" y2="324.5" stroke="#333" stroke-width="0.6"/>
<line x1="334.1" y1="321.2" x2="337.5" y2="321.2" stroke="#333" stroke-width="0.7"/>
<rect x="315.85" y="345.55" width="12.8" height="9.250000000000023" fill="#fff" stroke="#555" stroke-width="0.65"/>
<line x1="322.25" y1="343.9" x2="322.25" y2="345.2" stroke="#333" stroke-width="0.6"/>
<line x1="320.55" y1="343.9" x2="323.95" y2="343.9" stroke="#333" stroke-width="0.7"/>
<rect x="375.4" y="310" width="13.600000000000023" height="44.80000000000001" fill="#000"/>
<line x1="382.2" y1="304.8" x2="382.2" y2="310" stroke="#333" stroke-width="0.6"/>
<line x1="380.5" y1="304.8" x2="383.9" y2="304.8" stroke="#333" stroke-width="0.7"/>
<rect x="361.25" y="334.05" width="13.8" height="20.75000000000002" fill="#fff" stroke="#555" stroke-width="0.65"/>
<line x1="368.15" y1="330.9" x2="368.15" y2="333.7" stroke="#333" stroke-width="0.6"/>
<line x1="366.45" y1="330.9" x2="369.84999999999997" y2="330.9" stroke="#333" stroke-width="0.7"/>
<rect x="421.2" y="327" width="13.300000000000011" height="27.80000000000001" fill="#000"/>
<line x1="427.85" y1="323.2" x2="427.85" y2="327" stroke="#333" stroke-width="0.6"/>
<line x1="426.15000000000003" y1="323.2" x2="429.55" y2="323.2" stroke="#333" stroke-width="0.7"/>
<rect x="407.35" y="344.85" width="13.49999999999999" height="9.950000000000012" fill="#fff" stroke="#555" stroke-width="0.65"/>
<line x1="414.1" y1="342" x2="414.1" y2="344.5" stroke="#333" stroke-width="0.6"/>
<line x1="412.40000000000003" y1="342" x2="415.8" y2="342" stroke="#333" stroke-width="0.7"/>
<path d="M322.2 317.2V315.2H336.5V317.2" fill="none" stroke="#585858" stroke-width="0.75"/>
<text x="330.45" y="316.2" font-size="5.5" text-anchor="middle" fill="#444" letter-spacing="1.9">***</text>
<path d="M367.5 304.3V302.3H381.7V304.3" fill="none" stroke="#585858" stroke-width="0.75"/>
<text x="375.75" y="303.3" font-size="5.5" text-anchor="middle" fill="#444" letter-spacing="1.9">***</text>
<path d="M413 321.3V319.3H427.5V321.3" fill="none" stroke="#585858" stroke-width="0.75"/>
<text x="421.34999999999997" y="320.3" font-size="5.5" text-anchor="middle" fill="#444" letter-spacing="1.9">***</text>
<path d="M335.3 299V296.6H427.5V299M381.5 296.6V299.4" fill="none" stroke="#585858" stroke-width="0.75"/>
<text x="359.34999999999997" y="297.2" font-size="5.5" text-anchor="middle" fill="#444" letter-spacing="1.9">**</text>
<text x="405.95" y="297.2" font-size="5.5" text-anchor="middle" fill="#444" letter-spacing="1.9">**</text>
<text font-size="6.3" text-anchor="middle" stroke="#2a2a2a" stroke-width="0.08" fill="#2a2a2a" textLength="59.5" lengthAdjust="spacingAndGlyphs" transform="translate(280.1 329.5) rotate(-90)">% GFP-positive cells</text>
<text font-size="6.3" text-anchor="middle" stroke="#2a2a2a" stroke-width="0.08" fill="#2a2a2a" textLength="55" lengthAdjust="spacingAndGlyphs" transform="translate(287.9 332.1) rotate(-90)">adherent to ICAM-1</text>
<text x="317" y="365.8" font-size="8" font-weight="bold" textLength="24.2" lengthAdjust="spacingAndGlyphs" stroke="#000" stroke-width="0.5" stroke-opacity="0.45">vector</text>
<text x="317" y="375" font-size="8" font-weight="bold" textLength="27.5" lengthAdjust="spacingAndGlyphs" stroke="#000" stroke-width="0.5" stroke-opacity="0.45">control</text>
<text x="362.5" y="365.8" font-size="8" font-weight="bold" textLength="21.2" lengthAdjust="spacingAndGlyphs" stroke="#000" stroke-width="0.5" stroke-opacity="0.45">RhoA</text>
<text x="362.5" y="375" font-size="8" font-weight="bold" textLength="8.7" lengthAdjust="spacingAndGlyphs" stroke="#000" stroke-width="0.5" stroke-opacity="0.45">wt</text>
<text x="401.2" y="366.4" font-size="7.8" font-weight="bold" textLength="41.2" lengthAdjust="spacingAndGlyphs" stroke="#000" stroke-width="0.5" stroke-opacity="0.45">RhoA T19N</text>
<rect x="450" y="320.7" width="5.5" height="5" fill="#000"/>
<text x="458.7" y="325.6" font-size="8" textLength="17.5" lengthAdjust="spacingAndGlyphs" stroke="#000" stroke-width="0.22">PMA</text>
<rect x="450.3" y="331" width="5" height="4.6" fill="#fff" stroke="#222" stroke-width="0.6"/>
<text x="458.7" y="336" font-size="8" textLength="46.7" lengthAdjust="spacingAndGlyphs" stroke="#000" stroke-width="0.22">unstimulated</text>
</svg>
</body></html>
